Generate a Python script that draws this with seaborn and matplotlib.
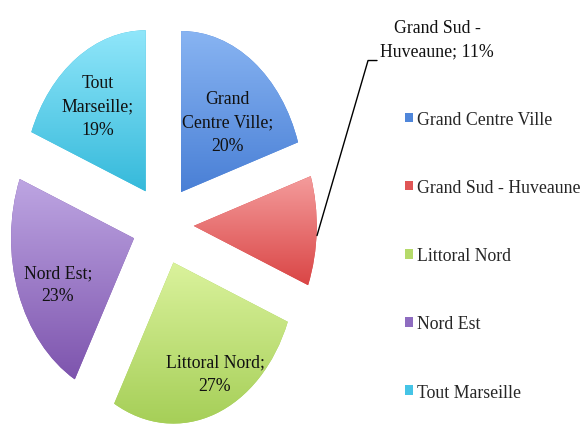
import numpy as np
import matplotlib
matplotlib.use("Agg")
import matplotlib.pyplot as plt
import seaborn as sns
from matplotlib.patches import Patch

# ---- data ----
categories = ["Grand Centre Ville", "Grand Sud - Huveaune", "Littoral Nord",
              "Nord Est", "Tout Marseille"]
shares = [20, 11, 27, 23, 19]
slice_labels = ["Grand\nCentre Ville;\n20%", "Grand Sud -\nHuveaune; 11%",
                "Littoral Nord;\n27%", "Nord Est;\n23%", "Tout\nMarseille;\n19%"]

# ---- style ----
top_colors = ["#88B4F2", "#F49C9C", "#DAF29C", "#BDA5E2", "#90E6FA"]
bottom_colors = ["#4A80D6", "#DA4646", "#A6CF58", "#7E55AE", "#36BADB"]
legend_colors = ["#4F86DA", "#E05555", "#B5DA6A", "#8E6CC0", "#45C4E6"]
label_pos = [(0.528, 0.636), (2.228, 1.154), (0.423, -0.926),
             (-0.854, -0.37), (-0.528, 0.735)]

sns.set_theme(style="white")
plt.rcParams['font.family'] = ['serif']
plt.rcParams['font.serif'] = ['Liberation Serif', 'Nimbus Roman', 'Times New Roman', 'DejaVu Serif']

fig = plt.figure(figsize=(5.86, 4.35), dpi=100)
ax = fig.add_axes([0, 0, 1, 1])
wedges, _ = ax.pie(shares, startangle=90, counterclock=False,
                   explode=[0.25] * len(shares), colors=bottom_colors,
                   wedgeprops=dict(linewidth=0))

# vertical gradient fill in each slice (light top -> darker bottom)
for w, ct, cb in zip(wedges, top_colors, bottom_colors):
    pal = sns.blend_palette([cb, ct], n_colors=64)
    arr = np.array(pal)[:, None, :]
    ext = w.get_path().get_extents()
    im = ax.imshow(arr, extent=(ext.x0, ext.x1, ext.y0, ext.y1), origin='lower',
                   aspect='auto', interpolation='bilinear', zorder=w.get_zorder() + 0.1)
    im.set_clip_path(w)

for (x, y), txt in zip(label_pos, slice_labels):
    ax.text(x, y, txt, ha='center', va='center', fontsize=12.8,
            linespacing=1.5, color='#111111', zorder=5)

# leader line for the small slice label
ax.plot([1.252, 1.667, 1.740], [-0.068, 1.019, 1.019], color='black', lw=1.0, zorder=4)

ax.set_aspect('auto')
ax.set_xlim(-1.325, 3.439)
ax.set_ylim(-1.30, 1.401)
ax.axis('off')

handles = [Patch(facecolor=c, edgecolor='none') for c in legend_colors]
fig.legend(handles, categories, loc='center left', bbox_to_anchor=(0.691, 0.410),
           frameon=False, fontsize=12.8, borderpad=0, borderaxespad=0,
           handlelength=0.45, handleheight=0.45, handletextpad=0.25,
           labelspacing=2.88)

fig.savefig("out.png", dpi=100)
